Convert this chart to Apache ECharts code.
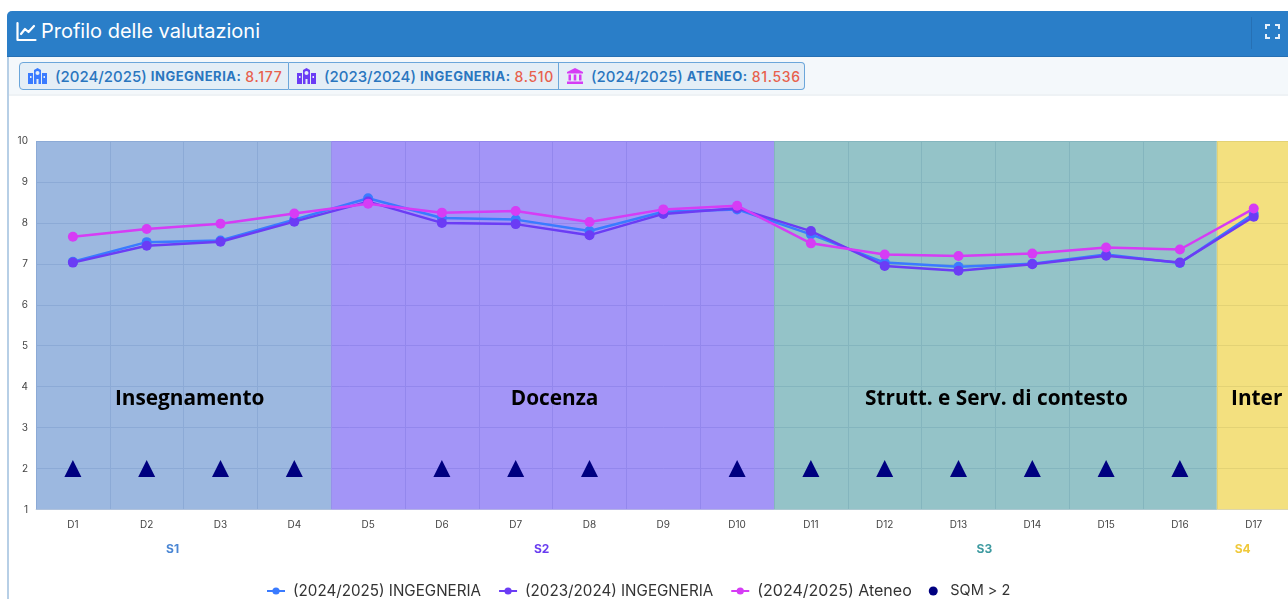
<!DOCTYPE html>
<html lang="it"><head><meta charset="utf-8">
<script src="https://cdn.jsdelivr.net/npm/echarts@6/dist/echarts.min.js"></script>
<style>
html,body{margin:0;padding:0;width:1288px;height:599px;overflow:hidden;background:#fff;font-family:Inter,sans-serif}
#card{position:absolute;left:7px;top:11px;width:1290px;height:600px;border-left:2px solid #b7cfe6;box-sizing:border-box;border-top-left-radius:5px}
#head{position:absolute;left:-2px;top:0;width:1292px;height:46px;background:#2a7ec8;border-bottom:1px solid #2670b4;box-sizing:border-box;border-top-left-radius:5px;color:#fff}
#head .t{position:absolute;left:34px;top:7px;font-size:20px;line-height:26px;font-weight:400}
#head svg.ic{position:absolute;left:9px;top:10px}
#head .div{position:absolute;left:1244px;top:6px;width:1px;height:32px;background:#2670b4}
#head svg.fs{position:absolute;left:1258px;top:13px}
#strip{position:absolute;left:0;top:46px;width:1288px;height:39px;background:#f4f8fb;border-bottom:2px solid #eef2f5;box-sizing:border-box}
#btns{position:absolute;left:19px;top:62px;height:28px;display:flex;box-sizing:border-box}
.b{height:28px;box-sizing:border-box;background:#e4eef6;border:1px solid #6ba6da;border-left-width:0;display:flex;align-items:center;color:#2a76bf;white-space:nowrap;overflow:hidden}
.b:first-child{border-left-width:1px;border-radius:4px 0 0 4px}
.b:last-child{border-radius:0 4px 4px 0}
.b svg{margin:0 8px 0 8px;flex:none}
.b .y{font-size:15px;font-weight:500;margin-right:4px}
.b .n{font-size:13px;font-weight:700;margin-right:4px;letter-spacing:.5px}
.b .v{font-size:14px;font-weight:500;color:#e8604c;letter-spacing:.7px}
#chart{position:absolute;left:8px;top:96px;width:1300px;height:503px}
</style></head><body>
<div id="card">
 <div id="head">
  <svg class="ic" width="21" height="21" viewBox="0 0 21 21" fill="none" stroke="#fff" stroke-width="2.2" stroke-linecap="round" stroke-linejoin="round"><path d="M1.5 2v17h18"/><path d="M5 13l4-5 3.5 3L18 5"/></svg>
  <div class="t">Profilo delle valutazioni</div>
  <div class="div"></div>
  <svg class="fs" width="15" height="15" viewBox="0 0 15 15" fill="none" stroke="#e8f1fa" stroke-width="2"><path d="M1 5V1h4M10 1h4v4M14 10v4h-4M5 14H1v-4"/></svg>
 </div>
 <div id="strip"></div>
</div>
<div id="btns">
 <div class="b" style="width:270px"><svg width="19" height="16" viewBox="0 0 19 16"><path fill="#3a7bff" d="M6 2l3.500-2 3.500 2v14H6zM0 5h5v11H0zM14 5h5v11h-5z"/><circle cx="9.500" cy="5" r="2" fill="#e4eef6"/><path fill="#e4eef6" d="M2 8h1.500v2H2zM15.500 8H17v2h-1.500zM8.500 11h2v5h-2z"/></svg><span class="y">(2024/2025)</span><span class="n">INGEGNERIA:</span><span class="v">8.177</span></div>
 <div class="b" style="width:270px"><svg width="19" height="16" viewBox="0 0 19 16"><path fill="#6b3cf5" d="M6 2l3.500-2 3.500 2v14H6zM0 5h5v11H0zM14 5h5v11h-5z"/><circle cx="9.500" cy="5" r="2" fill="#e4eef6"/><path fill="#e4eef6" d="M2 8h1.500v2H2zM15.500 8H17v2h-1.500zM8.500 11h2v5h-2z"/></svg><span class="y">(2023/2024)</span><span class="n">INGEGNERIA:</span><span class="v">8.510</span></div>
 <div class="b" style="width:246px"><svg width="16" height="16" viewBox="0 0 16 16"><path fill="#d63cf5" d="M8 0l8 4v1.500H0V4zM1.500 6.500h2.500v6H1.500zM6.700 6.500h2.600v6H6.700zM12 6.500h2.500v6H12zM0 13.500h16V16H0z"/></svg><span class="y">(2024/2025)</span><span class="n">ATENEO:</span><span class="v">81.536</span></div>
</div>
<div id="chart"></div>
<script>
const categories = ['D1','D2','D3','D4','D5','D6','D7','D8','D9','D10','D11','D12','D13','D14','D15','D16','D17'];
const seriesIng2425 = [7.05,7.53,7.57,8.08,8.60,8.12,8.08,7.80,8.27,8.33,7.72,7.03,6.93,7.00,7.23,7.02,8.22];
const seriesIng2324 = [7.03,7.44,7.54,8.03,8.52,8.00,7.97,7.70,8.22,8.36,7.80,6.95,6.83,6.99,7.20,7.03,8.15];
const seriesAteneo  = [7.66,7.85,7.98,8.23,8.47,8.25,8.29,8.02,8.33,8.42,7.50,7.23,7.19,7.25,7.40,7.35,8.35];
const sqmCategories = ['D1','D2','D3','D4','D6','D7','D8','D10','D11','D12','D13','D14','D15','D16'];
const sqmValue = 2;
const sectionTitles = ['Insegnamento','Docenza','Strutt. e Serv. di contesto','Inter'];
const sectionCodes = ['S1','S2','S3','S4'];
const sectionSizes = [4,6,6,1];
const sectionColors = ['#3972c1','#472bef','#298791','#e7c100'];
const sectionTextColors = ['#4a86d4','#6a3df0','#3d9aa0','#f0c93a'];
const yTicks = {min:1,max:10,interval:1};
const names = ['(2024/2025) INGEGNERIA','(2023/2024) INGEGNERIA','(2024/2025) Ateneo','SQM > 2'];
const lineColors = ['#3a7bff','#6b3cf5','#d63cf5'];

let cursor = 0;
const spans = sectionSizes.map(s => { const r = [cursor, cursor + s]; cursor += s; return r; });
const font = 'Inter';
const titleNudge = [6,2,1,3];
const bandSeries = {
  type:'line', xAxisIndex:1, yAxisIndex:0, data:[], silent:true, z:1,
  markArea:{silent:true,data:spans.map((sp,i)=>[
    {xAxis:sp[0],itemStyle:{color:sectionColors[i],opacity:.5},
     label:{show:true,formatter:sectionTitles[i],position:['50%','70%'],align:'center',verticalAlign:'middle',
       fontFamily:'"Open Sans"',fontWeight:700,fontSize:20.8,color:'#000',offset:[titleNudge[i],0]}},
    {xAxis:sp[1]}
  ])}
};
const codeSeries = {
  type:'line', xAxisIndex:1, yAxisIndex:0, data:[], silent:true, z:1,
  markArea:{silent:true,itemStyle:{color:'rgba(0,0,0,0)'},data:spans.map((sp,i)=>[
    {xAxis:sp[0],label:{show:true,formatter:sectionCodes[i],position:['50%',408],align:'center',verticalAlign:'middle',
       fontFamily:font,fontWeight:700,fontSize:12,color:sectionTextColors[i],offset:[-11,0]}},
    {xAxis:sp[1]}
  ])}
};
const line = (i,data)=>({name:names[i],type:'line',data,symbol:'circle',symbolSize:10,z:3+i,
  lineStyle:{width:2.500,color:lineColors[i]},itemStyle:{color:lineColors[i]}});
const chart = echarts.init(document.getElementById('chart'),null,{renderer:'canvas'});
chart.setOption({
  animation:false,
  textStyle:{fontFamily:font},
  grid:{left:28,top:45,width:1254.6,height:368.5,containLabel:false},
  legend:{left:253,top:482,itemWidth:18,itemHeight:9,itemGap:17,
    textStyle:{fontFamily:font,fontSize:15.2,color:'#333',padding:[0,0,0,3]},
    data:[{name:names[0]},{name:names[1]},
      {name:names[2],textStyle:{fontSize:16}},
      {name:names[3],icon:'circle',textStyle:{fontSize:14.5}}]},
  xAxis:[
    {type:'category',data:categories,boundaryGap:true,
     axisTick:{show:false},axisLine:{show:true,lineStyle:{color:'#d8dee6'}},
     axisLabel:{fontSize:10,color:'#444',margin:10,interval:0},
     splitLine:{show:true,lineStyle:{color:'#dfe3ea',width:1}}},
    {type:'value',min:0,max:sectionSizes.reduce((a,b)=>a+b,0),show:false,position:'bottom'}
  ],
  yAxis:{type:'value',min:yTicks.min,max:yTicks.max,interval:yTicks.interval,
    axisLine:{show:false},axisTick:{show:false},
    axisLabel:{fontSize:10,color:'#444',margin:8,padding:[2,0,0,0]},
    splitLine:{show:true,lineStyle:{color:'#dfe3ea',width:1}}},
  series:[
    bandSeries, codeSeries,
    line(0,seriesIng2425), line(1,seriesIng2324), line(2,seriesAteneo),
    {name:names[3],type:'scatter',symbol:'triangle',symbolSize:17,symbolOffset:[0,0],z:6,
     itemStyle:{color:'#000080',opacity:1},
     data:sqmCategories.map(c=>[c,sqmValue])}
  ]
});
</script>
</body></html>
